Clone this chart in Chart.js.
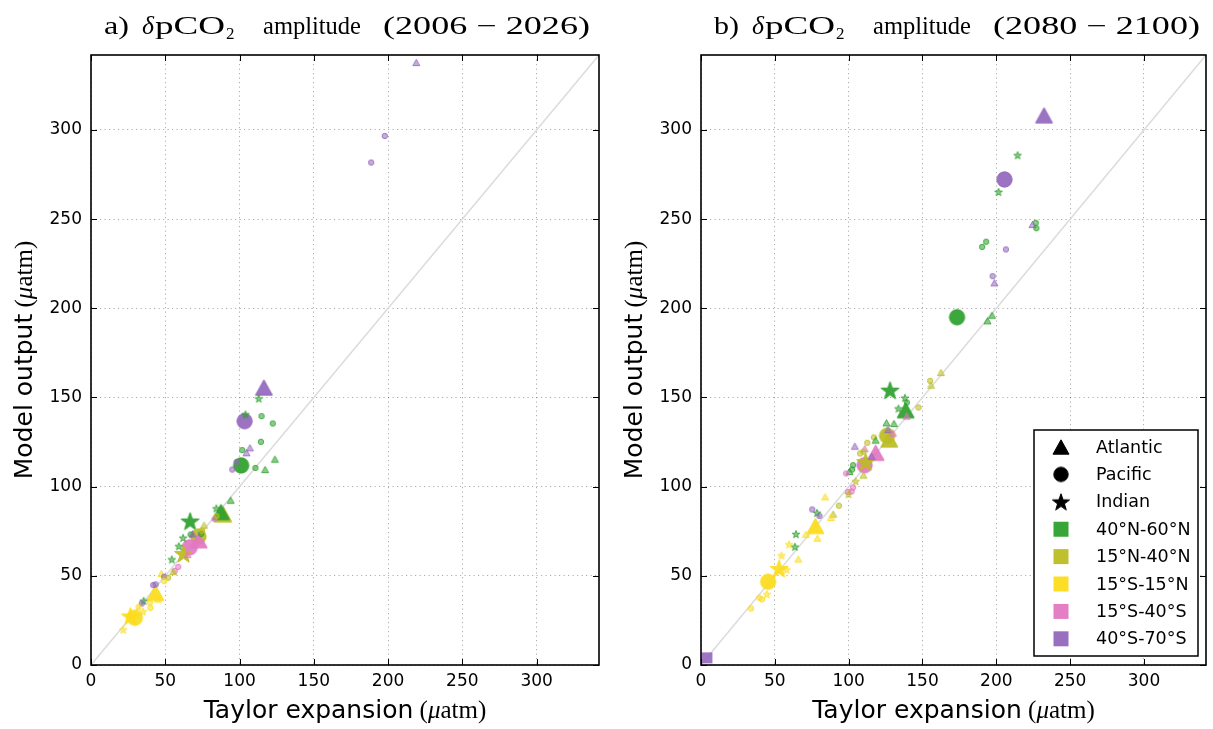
<!DOCTYPE html>
<html>
<head>
<meta charset="utf-8">
<script src="https://cdn.jsdelivr.net/npm/chart.js@4.4.1/dist/chart.umd.min.js"></script>
<style>
  body { margin: 0; background: #fff; }
  #wrap { position: relative; width: 1213px; height: 729px; }
  canvas { position: absolute; top: 0; }
  #left { left: 0; }
  #right { left: 610px; }
</style>
</head>
<body>
<div id="wrap">
  <canvas id="left" width="606" height="729"></canvas>
  <canvas id="right" width="603" height="729"></canvas>
</div>
<script>
const basins = ["Atlantic", "Pacific", "Indian"];
const basinCodes = ["A", "P", "I"];
const regions = ["40°N-60°N", "15°N-40°N", "15°S-15°N", "15°S-40°S", "40°S-70°S"];
const regionColors = ["#2ca02c", "#bcbd22", "#fcdc1c", "#e377c2", "#9467bd"];
const axisTicks = [0, 50, 100, 150, 200, 250, 300];
const axisMax = 342;

// a) 2006-2026, ensemble means (big markers)
const meanTaylorA = [116.4, 103.4, 101.1, 89.0, 87.5, 66.7, 72.3, 72.5, 66.5, 62.3, 43.4, 26.5, 29.5];
const meanModelA  = [155.6, 136.7, 111.9, 84.5, 85.8, 80.7, 72.0, 70.0, 66.0, 62.5, 40.5, 27.5, 26.5];
const meanBasinA  = ["A", "P", "P", "A", "A", "I", "P", "A", "P", "I", "A", "I", "P"];
const meanRegionA = [4, 4, 0, 1, 0, 0, 1, 3, 3, 1, 2, 2, 2];

// a) 2006-2026, single models (small markers)
const modelTaylorA = [219, 197.8, 188.6, 112.9, 104, 114.8, 122.4, 114.4, 107, 101.8, 104.7, 123.8, 98, 95.1, 110.7, 117.2,
  94, 84.4, 76.1, 83.2, 84.5, 67.1, 74.2, 62, 68.4, 74.8, 59.1, 54.4, 58.7, 56.4, 55.3, 47.4, 49.2, 51.9, 49.2,
  41.9, 43.5, 35.4, 34.2, 39.6, 40, 32, 21.7, 35, 45, 65];
const modelModelA = [337.8, 296.6, 281.7, 149.4, 140.5, 139.5, 135.4, 125.1, 121.8, 120.5, 119, 115.4, 113.9, 109.6, 110.5, 109.6,
  92.4, 87.8, 78.4, 81.8, 83.5, 73.2, 73.5, 71.3, 73.5, 75.4, 66.6, 59.2, 55, 52.8, 52.4, 51.3, 49.5, 48.9, 47,
  44.8, 45.2, 36, 34.5, 35, 32, 32.5, 19.8, 30, 37, 62];
const modelBasinA = ["A", "P", "P", "I", "I", "P", "P", "P", "A", "P", "A", "A", "P", "P", "P", "A",
  "A", "I", "A", "P", "P", "P", "P", "I", "A", "P", "I", "I", "P", "P", "A", "A", "P", "P", "P",
  "P", "P", "I", "P", "P", "P", "P", "I", "I", "A", "A"];
const modelRegionA = [4, 4, 4, 0, 0, 0, 0, 0, 4, 0, 4, 0, 4, 4, 0, 0,
  0, 0, 1, 3, 1, 0, 0, 0, 4, 1, 0, 0, 3, 3, 1, 2, 4, 1, 2,
  4, 4, 0, 4, 2, 2, 2, 2, 2, 2, 3];

// b) 2080-2100, ensemble means
const meanTaylorB = [232.3, 205.5, 173.4, 128, 138.6, 127.5, 126, 118.3, 110.8, 111.5, 77.5, 52.9, 45.5];
const meanModelB  = [308.2, 272.2, 195, 154.1, 142.9, 126.5, 128.5, 119, 112, 114, 78, 54.1, 46.7];
const meanBasinB  = ["A", "P", "P", "I", "A", "A", "P", "A", "P", "I", "A", "I", "P"];
const meanRegionB = [4, 4, 0, 0, 0, 1, 1, 3, 3, 1, 2, 2, 2];

// b) 2080-2100, single models
const modelTaylorB = [214.4, 201.5, 226.7, 224.5, 227.1, 193.1, 190.4, 206.5, 197.5, 198.7, 197.1, 194,
  162.5, 155.2, 155.8, 138.1, 139.4, 133.7, 147.3, 139.3, 125.6, 130.7, 126.6, 130, 117.1, 118.3, 112.6,
  104.2, 110.9, 110, 115.6, 107.7, 103, 102.3, 100.5, 98.3, 104.8, 110, 103, 102, 99.6, 99.9,
  84, 93.4, 75.3, 78.6, 80.2, 89.5, 88, 71, 78.8, 64.3, 63.6, 59.6, 65.9, 54.5, 58, 44.6, 39.5, 41.3, 33.9];
const modelModelB = [285.8, 265.2, 247.9, 247, 244.9, 237.3, 234.4, 233, 218, 214.3, 196.1, 193,
  164, 159.3, 156.9, 149.8, 147.2, 143.8, 144.4, 139.5, 135.8, 135.4, 132, 130, 127.6, 126.1, 124.6,
  122.7, 121.3, 119.6, 117, 118.6, 112, 109.6, 108.5, 107.4, 103, 106.5, 99.5, 97.3, 97, 95.8,
  94.3, 89.3, 87.2, 85.3, 83.6, 84.6, 82.7, 73.3, 71.1, 73.4, 66.3, 67.6, 59.4, 61.4, 53.5, 39.7, 37.7, 36.8, 31.7];
const modelBasinB = ["I", "I", "P", "A", "P", "P", "P", "P", "P", "A", "A", "A",
  "A", "P", "A", "I", "P", "I", "P", "A", "A", "A", "A", "A", "P", "A", "P",
  "A", "A", "P", "A", "P", "P", "P", "A", "P", "I", "A", "P", "P", "P", "I",
  "A", "P", "P", "I", "P", "A", "A", "A", "A", "I", "I", "I", "A", "I", "I", "I", "P", "P", "P"];
const modelRegionB = [0, 0, 0, 4, 0, 0, 0, 4, 4, 4, 0, 0,
  1, 1, 1, 0, 0, 0, 1, 3, 0, 0, 4, 3, 1, 0, 1,
  4, 3, 1, 4, 1, 0, 0, 0, 3, 1, 1, 3, 3, 3, 1,
  2, 1, 4, 0, 4, 1, 2, 2, 2, 0, 0, 2, 2, 2, 2, 2, 2, 2, 2];

// b) leftover legend square at the origin
const squareTaylorB = [4];
const squareModelB = [4];

const rgba = (hex, a) => {
  const n = parseInt(hex.slice(1), 16);
  return `rgba(${n >> 16},${(n >> 8) & 255},${n & 255},${a})`;
};

const markerCache = {};
function marker(shape, color, size, fillA, lineA) {
  const key = [shape, color, size, fillA, lineA].join("|");
  if (markerCache[key]) return markerCache[key];
  const c = document.createElement("canvas");
  const w = Math.ceil(size) + 4;
  c.width = c.height = w;
  const g = c.getContext("2d");
  const m = w / 2, r = size / 2;
  g.beginPath();
  if (shape === "A") {
    const h = r * 0.9;
    g.moveTo(m, m - h);
    g.lineTo(m + r, m + h);
    g.lineTo(m - r, m + h);
    g.closePath();
  } else if (shape === "P") {
    g.arc(m, m, r * 0.9, 0, Math.PI * 2);
  } else if (shape === "I") {
    for (let k = 0; k < 10; k++) {
      const rr = k % 2 ? r * 0.4 : r;
      const a = -Math.PI / 2 + k * Math.PI / 5;
      g.lineTo(m + rr * Math.cos(a), m + r * 0.1 + rr * Math.sin(a));
    }
    g.closePath();
  } else {
    g.rect(m - r, m - r, size, size);
  }
  g.fillStyle = rgba(color, fillA);
  g.fill();
  if (lineA > 0) {
    g.strokeStyle = rgba(color, lineA);
    g.lineWidth = 1;
    g.stroke();
  }
  markerCache[key] = c;
  return c;
}

const smallSize = { A: 7, P: 6, I: 8 };
const bigSize = { A: 17, P: 17, I: 19 };

const toPoints = (xs, ys) => xs.map((x, i) => ({ x: x, y: ys[i] }));

const serif = '"Liberation Serif", "DejaVu Serif", serif';
const sans = '"DejaVu Sans", sans-serif';

// draw a list of text runs in a row, centred on x
function drawRuns(ctx, runs, x, y) {
  let total = 0;
  runs.forEach(r => { ctx.font = r.font; total += ctx.measureText(r.text).width; });
  let cx = x - total / 2;
  runs.forEach(r => {
    ctx.font = r.font;
    ctx.fillText(r.text, cx, y + (r.dy || 0));
    cx += ctx.measureText(r.text).width;
  });
}

// fit a text into a given width by squeezing/stretching it
function fitText(ctx, text, x, y, width) {
  const w = ctx.measureText(text).width;
  ctx.save();
  ctx.translate(x, y);
  ctx.scale(width / w, 1);
  ctx.fillText(text, 0, 0);
  ctx.restore();
}

const unitRuns = [
  { text: " (", font: `25px ${serif}` },
  { text: "μ", font: `italic 25px ${serif}` },
  { text: "atm)", font: `25px ${serif}` }
];

const decorPlugin = {
  id: "decor",
  afterDraw(chart, args, opts) {
    const { ctx, chartArea: ca, scales } = chart;
    ctx.save();

    // ticks pointing inward on all four sides
    ctx.strokeStyle = "#000";
    ctx.lineWidth = 1;
    axisTicks.forEach(v => {
      const px = Math.round(scales.x.getPixelForValue(v)) + 0.5;
      const py = Math.round(scales.y.getPixelForValue(v)) + 0.5;
      ctx.beginPath();
      ctx.moveTo(px, ca.bottom); ctx.lineTo(px, ca.bottom - 6);
      ctx.moveTo(px, ca.top); ctx.lineTo(px, ca.top + 6);
      ctx.moveTo(ca.left, py); ctx.lineTo(ca.left + 6, py);
      ctx.moveTo(ca.right, py); ctx.lineTo(ca.right - 6, py);
      ctx.stroke();
    });
    ctx.lineWidth = 1.6;
    ctx.strokeRect(ca.left, ca.top, ca.right - ca.left, ca.bottom - ca.top);

    // title
    ctx.fillStyle = "#000";
    ctx.textBaseline = "alphabetic";
    const ty = 34;
    ctx.font = `25px ${serif}`;
    fitText(ctx, opts.tag, ca.left + 13, ty, 25);
    ctx.font = `italic 25px ${serif}`;
    fitText(ctx, "δ", ca.left + 51, ty, 12);
    ctx.font = `25px ${serif}`;
    fitText(ctx, "pCO", ca.left + 64, ty, 70);
    ctx.font = `17px ${serif}`;
    ctx.fillText("2", ca.left + 135, ty + 5);
    ctx.font = `25px ${serif}`;
    fitText(ctx, "amplitude", ca.left + 172, ty, 98);
    fitText(ctx, opts.period, ca.left + 292, ty, 207);

    // axis titles
    const midX = (ca.left + ca.right) / 2;
    const midY = (ca.top + ca.bottom) / 2;
    drawRuns(ctx, [{ text: "Taylor expansion", font: `25px ${sans}` }].concat(unitRuns), midX, 718);
    ctx.save();
    ctx.translate(32, midY);
    ctx.rotate(-Math.PI / 2);
    drawRuns(ctx, [{ text: "Model output", font: `25px ${sans}` }].concat(unitRuns), 0, 0);
    ctx.restore();

    // legend box
    if (opts.legend) {
      const bx = ca.right - 172, by = ca.bottom - 235, bw = 164, bh = 226;
      ctx.fillStyle = "#fff";
      ctx.fillRect(bx, by, bw, bh);
      ctx.strokeStyle = "#000";
      ctx.lineWidth = 1.5;
      ctx.strokeRect(bx, by, bw, bh);
      const items = basins.map((b, i) => ({ label: b, img: marker(basinCodes[i], "#000000", bigSize[basinCodes[i]] - 1, 1, 1) }))
        .concat(regions.map((r, i) => ({ label: r, img: marker("S", regionColors[i], 15, 0.95, 0) })));
      ctx.font = `17.5px ${sans}`;
      ctx.textBaseline = "middle";
      ctx.fillStyle = "#000";
      items.forEach((it, i) => {
        const y = by + 17 + i * 27.4;
        ctx.drawImage(it.img, bx + 27 - it.img.width / 2, y - it.img.height / 2);
        ctx.fillText(it.label, bx + 62, y + 1);
      });
    }
    ctx.restore();
  }
};

function keepTicks(scale) {
  scale.ticks = scale.ticks.filter(t => axisTicks.includes(t.value));
}

function axis(isX) {
  return {
    type: "linear",
    min: 0,
    max: axisMax,
    afterBuildTicks: keepTicks,
    afterFit: s => { if (isX) s.height = 729 - 665; else s.width = 91; },
    grid: { color: "rgba(0,0,0,0.32)", lineWidth: 1, drawTicks: false },
    border: { display: false, dash: [1.2, 3.3] },
    ticks: {
      padding: isX ? 6 : 9,
      color: "#000",
      font: { family: "DejaVu Sans", size: 17 },
      maxRotation: 0
    }
  };
}

function makePanel(id, rightPad, mx, my, mb, mr, sx, sy, sb, sr, opts, extra) {
  const datasets = [
    {
      label: "models",
      data: toPoints(sx, sy),
      pointStyle: sb.map((b, i) => marker(b, regionColors[sr[i]], smallSize[b], 0.55, 0.8)),
      pointRadius: 3,
      order: 1
    },
    {
      label: "means",
      data: toPoints(mx, my),
      pointStyle: mb.map((b, i) => marker(b, regionColors[mr[i]], bigSize[b], 0.92, 0.95)),
      pointRadius: 6,
      order: 2
    },
    {
      label: "1:1",
      data: [{ x: 0, y: 0 }, { x: axisMax, y: axisMax }],
      showLine: true,
      borderColor: "#dcdcdc",
      borderWidth: 1.5,
      pointRadius: 0,
      order: 4
    }
  ].concat(extra || []);
  return new Chart(document.getElementById(id), {
    type: "scatter",
    data: { datasets: datasets },
    options: {
      responsive: false,
      animation: false,
      layout: { padding: { top: 55, right: rightPad, left: 0, bottom: 0 } },
      plugins: { legend: { display: false }, tooltip: { enabled: false }, decor: opts },
      scales: { x: axis(true), y: axis(false) }
    },
    plugins: [decorPlugin]
  });
}

makePanel("left", 6, meanTaylorA, meanModelA, meanBasinA, meanRegionA,
  modelTaylorA, modelModelA, modelBasinA, modelRegionA,
  { tag: "a)", period: "(2006 − 2026)", legend: false });

makePanel("right", 3, meanTaylorB, meanModelB, meanBasinB, meanRegionB,
  modelTaylorB, modelModelB, modelBasinB, modelRegionB,
  { tag: "b)", period: "(2080 − 2100)", legend: true },
  [{
    label: "square",
    data: toPoints(squareTaylorB, squareModelB),
    pointStyle: [marker("S", regionColors[4], 11, 0.9, 0)],
    pointRadius: 3,
    clip: 0,
    order: 3
  }]);
</script>
</body>
</html>
